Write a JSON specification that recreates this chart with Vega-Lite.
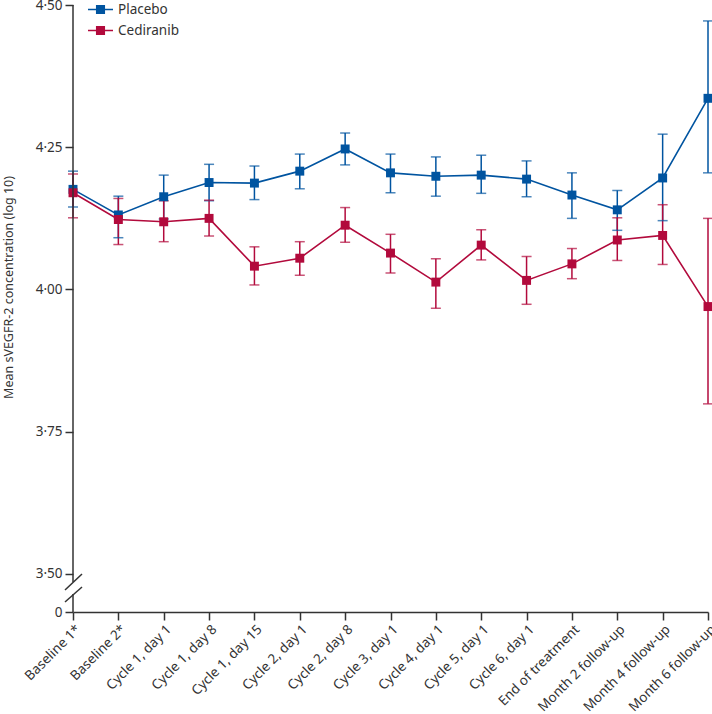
{
  "$schema": "https://vega.github.io/schema/vega-lite/v6.json",
  "width": 635,
  "height": 607,
  "autosize": "none",
  "padding": {"left": 73, "top": 5, "right": 4, "bottom": 102},
  "config": {
    "view": {"stroke": null},
    "font": "Noto Sans",
    "axis": {
      "grid": false,
      "domainColor": "#333333",
      "tickColor": "#333333",
      "labelColor": "#333333",
      "titleColor": "#333333",
      "domainWidth": 1.5,
      "tickWidth": 1.5,
      "tickSize": 8,
      "labelFont": "Noto Sans",
      "titleFont": "Noto Sans",
      "labelFontSize": 13.5,
      "titleFontSize": 12.5,
      "titleFontWeight": "normal"
    }
  },
  "data": {
    "values": [
      {"t": "Baseline 1*", "g": "Placebo", "m": 4.176, "lo": 4.145, "hi": 4.208},
      {"t": "Baseline 2*", "g": "Placebo", "m": 4.131, "lo": 4.091, "hi": 4.164},
      {"t": "Cycle 1, day 1", "g": "Placebo", "m": 4.163, "lo": 4.124, "hi": 4.201},
      {"t": "Cycle 1, day 8", "g": "Placebo", "m": 4.188, "lo": 4.156, "hi": 4.220},
      {"t": "Cycle 1, day 15", "g": "Placebo", "m": 4.187, "lo": 4.158, "hi": 4.217},
      {"t": "Cycle 2, day 1", "g": "Placebo", "m": 4.208, "lo": 4.177, "hi": 4.238},
      {"t": "Cycle 2, day 8", "g": "Placebo", "m": 4.247, "lo": 4.219, "hi": 4.275},
      {"t": "Cycle 3, day 1", "g": "Placebo", "m": 4.205, "lo": 4.170, "hi": 4.238},
      {"t": "Cycle 4, day 1", "g": "Placebo", "m": 4.199, "lo": 4.164, "hi": 4.233},
      {"t": "Cycle 5, day 1", "g": "Placebo", "m": 4.201, "lo": 4.169, "hi": 4.236},
      {"t": "Cycle 6, day 1", "g": "Placebo", "m": 4.194, "lo": 4.163, "hi": 4.226},
      {"t": "End of treatment", "g": "Placebo", "m": 4.166, "lo": 4.125, "hi": 4.205},
      {"t": "Month 2 follow-up", "g": "Placebo", "m": 4.140, "lo": 4.104, "hi": 4.174},
      {"t": "Month 4 follow-up", "g": "Placebo", "m": 4.196, "lo": 4.121, "hi": 4.273},
      {"t": "Month 6 follow-up", "g": "Placebo", "m": 4.336, "lo": 4.205, "hi": 4.472},
      {"t": "Baseline 1*", "g": "Cediranib", "m": 4.170, "lo": 4.126, "hi": 4.203},
      {"t": "Baseline 2*", "g": "Cediranib", "m": 4.123, "lo": 4.079, "hi": 4.160},
      {"t": "Cycle 1, day 1", "g": "Cediranib", "m": 4.119, "lo": 4.084, "hi": 4.156},
      {"t": "Cycle 1, day 8", "g": "Cediranib", "m": 4.125, "lo": 4.094, "hi": 4.157},
      {"t": "Cycle 1, day 15", "g": "Cediranib", "m": 4.041, "lo": 4.008, "hi": 4.075},
      {"t": "Cycle 2, day 1", "g": "Cediranib", "m": 4.055, "lo": 4.025, "hi": 4.084},
      {"t": "Cycle 2, day 8", "g": "Cediranib", "m": 4.113, "lo": 4.083, "hi": 4.144},
      {"t": "Cycle 3, day 1", "g": "Cediranib", "m": 4.064, "lo": 4.029, "hi": 4.097},
      {"t": "Cycle 4, day 1", "g": "Cediranib", "m": 4.013, "lo": 3.967, "hi": 4.054},
      {"t": "Cycle 5, day 1", "g": "Cediranib", "m": 4.078, "lo": 4.052, "hi": 4.105},
      {"t": "Cycle 6, day 1", "g": "Cediranib", "m": 4.016, "lo": 3.974, "hi": 4.058},
      {"t": "End of treatment", "g": "Cediranib", "m": 4.045, "lo": 4.019, "hi": 4.072},
      {"t": "Month 2 follow-up", "g": "Cediranib", "m": 4.087, "lo": 4.051, "hi": 4.126},
      {"t": "Month 4 follow-up", "g": "Cediranib", "m": 4.095, "lo": 4.044, "hi": 4.149},
      {"t": "Month 6 follow-up", "g": "Cediranib", "m": 3.970, "lo": 3.799, "hi": 4.125}
    ]
  },
  "encoding": {
    "x": {
      "field": "t",
      "type": "nominal",
      "sort": null,
      "scale": {
        "type": "point",
        "padding": 0,
        "domain": ["Baseline 1*", "Baseline 2*", "Cycle 1, day 1", "Cycle 1, day 8", "Cycle 1, day 15", "Cycle 2, day 1", "Cycle 2, day 8", "Cycle 3, day 1", "Cycle 4, day 1", "Cycle 5, day 1", "Cycle 6, day 1", "End of treatment", "Month 2 follow-up", "Month 4 follow-up", "Month 6 follow-up"]
      },
      "axis": {"title": null, "labelAngle": -45, "labelAlign": "right", "labelBaseline": "top", "labelPadding": 2}
    }
  },
  "layer": [
    {
      "mark": {"type": "rule", "strokeWidth": 1.5},
      "encoding": {
        "y": {
          "field": "lo",
          "type": "quantitative",
          "scale": {"domain": [3.4332, 4.5], "nice": false, "zero": false},
          "axis": {
            "title": "Mean sVEGFR-2 concentration (log 10)",
            "titleX": -58,
            "titleY": 282,
            "domain": false,
            "values": [3.4332, 3.5, 3.75, 4, 4.25, 4.5],
            "labelExpr": "datum.value < 3.45 ? '0' : replace(format(datum.value, '.2f'), '.', '·')",
            "labelPadding": 3
          }
        },
        "y2": {"field": "hi"},
        "color": {"field": "g", "type": "nominal"}
      }
    },
    {
      "mark": {"type": "tick", "thickness": 1.5, "size": 10, "orient": "horizontal"},
      "encoding": {
        "y": {"field": "lo", "type": "quantitative"},
        "color": {"field": "g", "type": "nominal"}
      }
    },
    {
      "mark": {"type": "tick", "thickness": 1.5, "size": 10, "orient": "horizontal"},
      "encoding": {
        "y": {"field": "hi", "type": "quantitative"},
        "color": {"field": "g", "type": "nominal"}
      }
    },
    {
      "mark": {"type": "line", "strokeWidth": 1.6},
      "encoding": {
        "y": {"field": "m", "type": "quantitative"},
        "color": {"field": "g", "type": "nominal"}
      }
    },
    {
      "mark": {"type": "point", "shape": "square", "filled": true, "size": 80, "opacity": 1},
      "encoding": {
        "y": {"field": "m", "type": "quantitative"},
        "color": {
          "field": "g",
          "type": "nominal",
          "scale": {"domain": ["Placebo", "Cediranib"], "range": ["#0054a0", "#b20a3c"]},
          "legend": {
            "title": null,
            "orient": "none",
            "legendX": 14,
            "legendY": -9,
            "labelFontSize": 13.5,
            "labelColor": "#333333",
            "labelFont": "Noto Sans",
            "labelOffset": 4,
            "rowPadding": -6,
            "symbolType": "M-1,0H1M-0.3,-0.3H0.3V0.3H-0.3Z",
            "symbolSize": 625,
            "symbolStrokeWidth": 1.6,
            "symbolOpacity": 1,
            "encode": {
              "symbols": {
                "update": {
                  "stroke": {"scale": "color", "field": "value"},
                  "fill": {"scale": "color", "field": "value"}
                }
              }
            }
          }
        }
      }
    },
    {
      "data": {"values": [{}]},
      "mark": {"type": "rule", "color": "#333333", "strokeWidth": 1.5},
      "encoding": {
        "x": {"datum": "Baseline 1*"},
        "y": {"datum": 3.4332},
        "y2": {"datum": 3.465}
      }
    },
    {
      "data": {"values": [{}]},
      "mark": {"type": "rule", "color": "#333333", "strokeWidth": 1.5},
      "encoding": {
        "x": {"datum": "Baseline 1*"},
        "y": {"datum": 3.486},
        "y2": {"datum": 4.5}
      }
    },
    {
      "data": {"values": [{}]},
      "mark": {"type": "rule", "color": "#333333", "strokeWidth": 1.5, "xOffset": -8, "x2Offset": 9},
      "encoding": {
        "x": {"datum": "Baseline 1*"},
        "x2": {"datum": "Baseline 1*"},
        "y": {"datum": 3.4508},
        "y2": {"datum": 3.4772}
      }
    },
    {
      "data": {"values": [{}]},
      "mark": {"type": "rule", "color": "#333333", "strokeWidth": 1.5, "xOffset": -8, "x2Offset": 9},
      "encoding": {
        "x": {"datum": "Baseline 1*"},
        "x2": {"datum": "Baseline 1*"},
        "y": {"datum": 3.4719},
        "y2": {"datum": 3.5}
      }
    }
  ]
}
